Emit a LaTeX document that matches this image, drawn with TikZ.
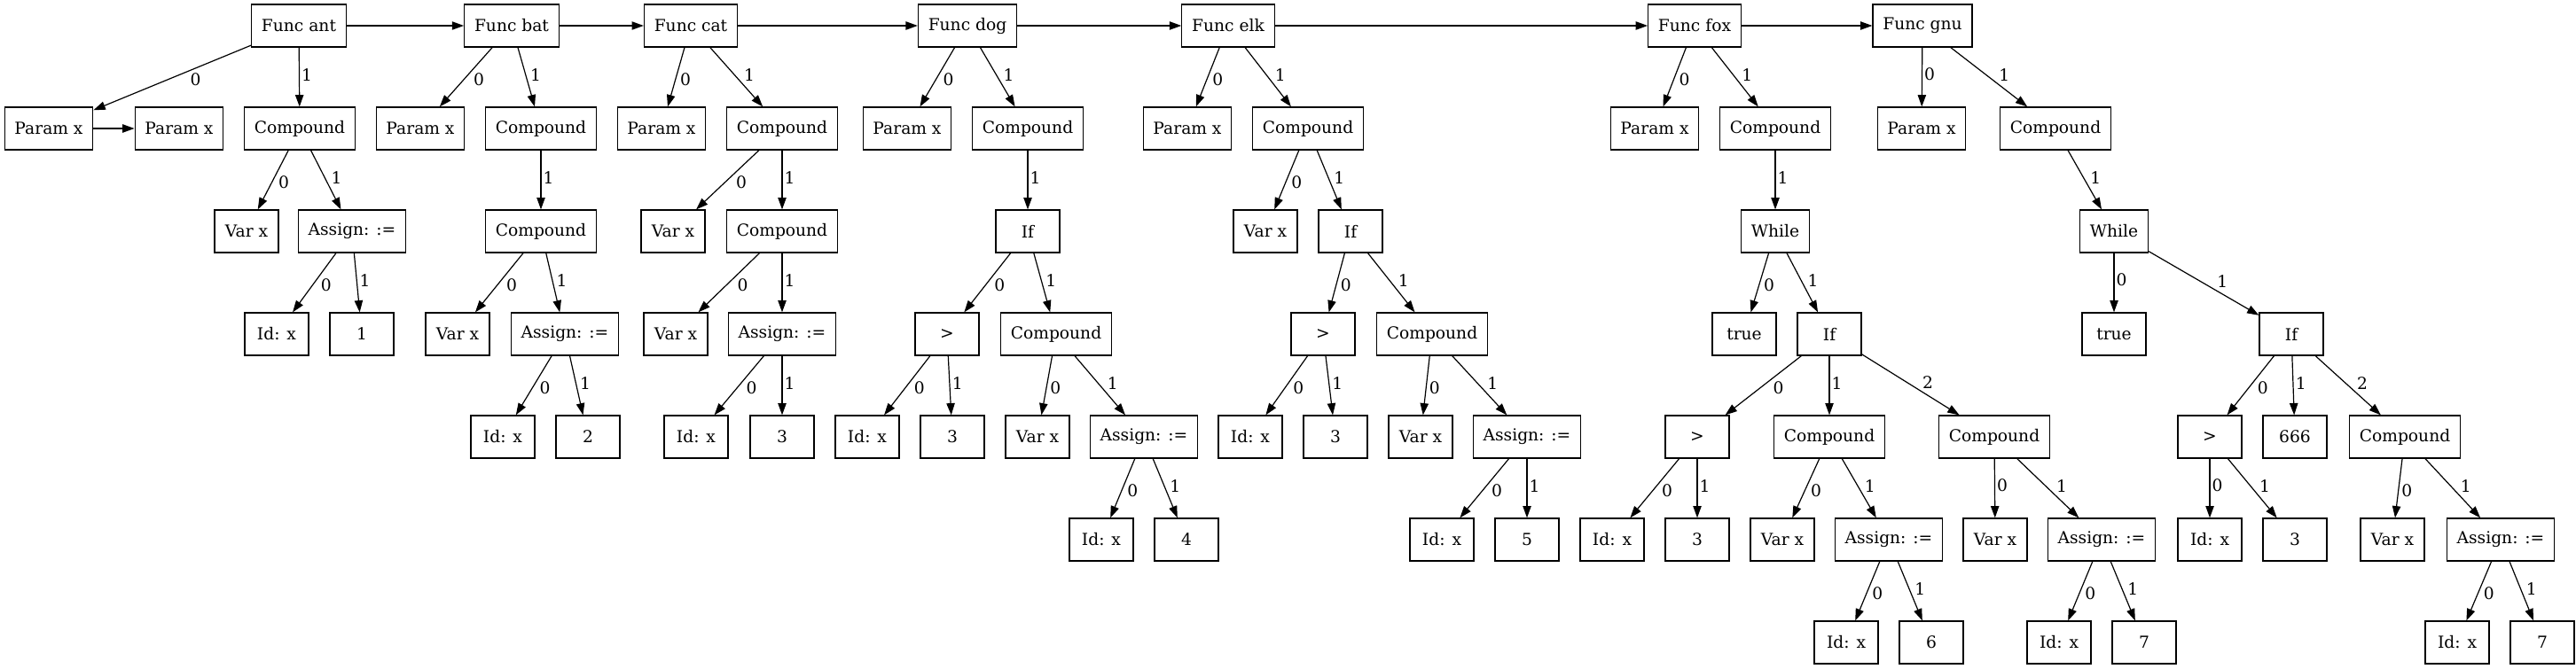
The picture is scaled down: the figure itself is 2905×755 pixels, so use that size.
\documentclass[tikz,border=0pt]{standalone}
\usepackage{fontspec}
\setmainfont{DejaVu Serif}
\usepackage{tikz}
\usetikzlibrary{arrows.meta}
\newcommand{\astfont}{\fontsize{14pt}{17pt}\selectfont}
\tikzset{
  ast/.style={draw=black, line width=0.9pt, rectangle, minimum width=54pt, minimum height=36pt, inner xsep=8.5pt, inner ysep=0pt, font=\astfont},
  edge/.style={draw=black, line width=0.9pt, -{Triangle[length=10pt,width=7pt]}},
  lr/.style={pos=0.6, anchor=south west, inner sep=1.5pt, font=\astfont},
  ll/.style={pos=0.4, anchor=north west, inner sep=1.5pt, font=\astfont},
}
\begin{document}
\begin{tikzpicture}[x=0.75pt,y=-0.75pt]
  \useasboundingbox (0,0) rectangle (2905,755);
  \node[ast] (fant) at (337,29) {Func ant};
  \node[ast] (fbat) at (577,29) {Func bat};
  \node[ast] (fcat) at (779,29) {Func cat};
  \node[ast] (fdog) at (1091,29) {Func dog};
  \node[ast] (felk) at (1385,29) {Func elk};
  \node[ast] (ffox) at (1911,29) {Func fox};
  \node[ast] (fgnu) at (2168,29) {Func gnu};
  \draw[edge] (fant) -- (fbat);
  \draw[edge] (fbat) -- (fcat);
  \draw[edge] (fcat) -- (fdog);
  \draw[edge] (fdog) -- (felk);
  \draw[edge] (felk) -- (ffox);
  \draw[edge] (ffox) -- (fgnu);

  \node[ast] (apar) at (55,145) {Param x};
  \node[ast] (apar2) at (202,145) {Param x};
  \node[ast] (acmp) at (338,145) {Compound};
  \node[ast] (avar) at (278,261) {Var x};
  \node[ast] (aasg) at (397,261) {Assign: :=};
  \node[ast] (aid) at (312,377) {Id: x};
  \node[ast] (anum) at (408,377) {1};
  \draw[edge] (fant) -- node[ll] {0} (apar);
  \draw[edge] (apar) -- (apar2);
  \draw[edge] (fant) -- node[lr] {1} (acmp);
  \draw[edge] (acmp) -- node[ll] {0} (avar);
  \draw[edge] (acmp) -- node[lr] {1} (aasg);
  \draw[edge] (aasg) -- node[ll] {0} (aid);
  \draw[edge] (aasg) -- node[lr] {1} (anum);

  \node[ast] (bpar) at (474,145) {Param x};
  \node[ast] (bcmp) at (610,145) {Compound};
  \node[ast] (bcmp2) at (610,261) {Compound};
  \node[ast] (bvar) at (516,377) {Var x};
  \node[ast] (basg) at (637,377) {Assign: :=};
  \node[ast] (bid) at (567,493) {Id: x};
  \node[ast] (bnum) at (663,493) {2};
  \draw[edge] (fbat) -- node[ll] {0} (bpar);
  \draw[edge] (fbat) -- node[lr] {1} (bcmp);
  \draw[edge] (bcmp) -- node[lr] {1} (bcmp2);
  \draw[edge] (bcmp2) -- node[ll] {0} (bvar);
  \draw[edge] (bcmp2) -- node[lr] {1} (basg);
  \draw[edge] (basg) -- node[ll] {0} (bid);
  \draw[edge] (basg) -- node[lr] {1} (bnum);

  \node[ast] (cpar) at (746,145) {Param x};
  \node[ast] (ccmp) at (882,145) {Compound};
  \node[ast] (cvar) at (759,261) {Var x};
  \node[ast] (ccmp2) at (882,261) {Compound};
  \node[ast] (cvar2) at (762,377) {Var x};
  \node[ast] (casg) at (882,377) {Assign: :=};
  \node[ast] (cid) at (785,493) {Id: x};
  \node[ast] (cnum) at (882,493) {3};
  \draw[edge] (fcat) -- node[ll] {0} (cpar);
  \draw[edge] (fcat) -- node[lr] {1} (ccmp);
  \draw[edge] (ccmp) -- node[ll] {0} (cvar);
  \draw[edge] (ccmp) -- node[lr] {1} (ccmp2);
  \draw[edge] (ccmp2) -- node[ll] {0} (cvar2);
  \draw[edge] (ccmp2) -- node[lr] {1} (casg);
  \draw[edge] (casg) -- node[ll] {0} (cid);
  \draw[edge] (casg) -- node[lr] {1} (cnum);

  \node[ast] (dpar) at (1023,145) {Param x};
  \node[ast] (dcmp) at (1159,145) {Compound};
  \node[ast] (dif) at (1159,261) {If};
  \node[ast] (dgt) at (1068,377) {>};
  \node[ast] (dcmp2) at (1191,377) {Compound};
  \node[ast] (did) at (978,493) {Id: x};
  \node[ast] (dthr) at (1074,493) {3};
  \node[ast] (dvar) at (1170,493) {Var x};
  \node[ast] (dasg) at (1290,493) {Assign: :=};
  \node[ast] (did2) at (1242,609) {Id: x};
  \node[ast] (dnum) at (1338,609) {4};
  \draw[edge] (fdog) -- node[ll] {0} (dpar);
  \draw[edge] (fdog) -- node[lr] {1} (dcmp);
  \draw[edge] (dcmp) -- node[lr] {1} (dif);
  \draw[edge] (dif) -- node[ll] {0} (dgt);
  \draw[edge] (dif) -- node[lr] {1} (dcmp2);
  \draw[edge] (dgt) -- node[ll] {0} (did);
  \draw[edge] (dgt) -- node[lr] {1} (dthr);
  \draw[edge] (dcmp2) -- node[ll] {0} (dvar);
  \draw[edge] (dcmp2) -- node[lr] {1} (dasg);
  \draw[edge] (dasg) -- node[ll] {0} (did2);
  \draw[edge] (dasg) -- node[lr] {1} (dnum);

  \node[ast] (epar) at (1339,145) {Param x};
  \node[ast] (ecmp) at (1475,145) {Compound};
  \node[ast] (evar) at (1427,261) {Var x};
  \node[ast] (eif) at (1523,261) {If};
  \node[ast] (egt) at (1492,377) {>};
  \node[ast] (ecmp2) at (1615,377) {Compound};
  \node[ast] (eid) at (1410,493) {Id: x};
  \node[ast] (ethr) at (1506,493) {3};
  \node[ast] (evar2) at (1602,493) {Var x};
  \node[ast] (easg) at (1722,493) {Assign: :=};
  \node[ast] (eid2) at (1626,609) {Id: x};
  \node[ast] (enum) at (1722,609) {5};
  \draw[edge] (felk) -- node[ll] {0} (epar);
  \draw[edge] (felk) -- node[lr] {1} (ecmp);
  \draw[edge] (ecmp) -- node[ll] {0} (evar);
  \draw[edge] (ecmp) -- node[lr] {1} (eif);
  \draw[edge] (eif) -- node[ll] {0} (egt);
  \draw[edge] (eif) -- node[lr] {1} (ecmp2);
  \draw[edge] (egt) -- node[ll] {0} (eid);
  \draw[edge] (egt) -- node[lr] {1} (ethr);
  \draw[edge] (ecmp2) -- node[ll] {0} (evar2);
  \draw[edge] (ecmp2) -- node[lr] {1} (easg);
  \draw[edge] (easg) -- node[ll] {0} (eid2);
  \draw[edge] (easg) -- node[lr] {1} (enum);

  \node[ast] (xpar) at (1866,145) {Param x};
  \node[ast] (xcmp) at (2002,145) {Compound};
  \node[ast] (xwh) at (2002,261) {While};
  \node[ast] (xtrue) at (1967,377) {true};
  \node[ast] (xif) at (2063,377) {If};
  \node[ast] (xgt) at (1914,493) {>};
  \node[ast] (xcmp2) at (2063,493) {Compound};
  \node[ast] (xcmp3) at (2249,493) {Compound};
  \node[ast] (xid) at (1818,609) {Id: x};
  \node[ast] (xthr) at (1914,609) {3};
  \node[ast] (xvar) at (2010,609) {Var x};
  \node[ast] (xasg) at (2130,609) {Assign: :=};
  \node[ast] (xvar2) at (2250,609) {Var x};
  \node[ast] (xasg2) at (2370,609) {Assign: :=};
  \node[ast] (xid2) at (2082,725) {Id: x};
  \node[ast] (xsix) at (2178,725) {6};
  \node[ast] (xid3) at (2322,725) {Id: x};
  \node[ast] (xsev) at (2418,725) {7};
  \draw[edge] (ffox) -- node[ll] {0} (xpar);
  \draw[edge] (ffox) -- node[lr] {1} (xcmp);
  \draw[edge] (xcmp) -- node[lr] {1} (xwh);
  \draw[edge] (xwh) -- node[ll] {0} (xtrue);
  \draw[edge] (xwh) -- node[lr] {1} (xif);
  \draw[edge] (xif) -- node[ll] {0} (xgt);
  \draw[edge] (xif) -- node[lr] {1} (xcmp2);
  \draw[edge] (xif) -- node[lr] {2} (xcmp3);
  \draw[edge] (xgt) -- node[ll] {0} (xid);
  \draw[edge] (xgt) -- node[lr] {1} (xthr);
  \draw[edge] (xcmp2) -- node[ll] {0} (xvar);
  \draw[edge] (xcmp2) -- node[lr] {1} (xasg);
  \draw[edge] (xcmp3) -- node[lr] {0} (xvar2);
  \draw[edge] (xcmp3) -- node[lr] {1} (xasg2);
  \draw[edge] (xasg) -- node[ll] {0} (xid2);
  \draw[edge] (xasg) -- node[lr] {1} (xsix);
  \draw[edge] (xasg2) -- node[ll] {0} (xid3);
  \draw[edge] (xasg2) -- node[lr] {1} (xsev);

  \node[ast] (gpar) at (2167,145) {Param x};
  \node[ast] (gcmp) at (2318,145) {Compound};
  \node[ast] (gwh) at (2384,261) {While};
  \node[ast] (gtrue) at (2384,377) {true};
  \node[ast] (gif) at (2584,377) {If};
  \node[ast] (ggt) at (2492,493) {>};
  \node[ast] (gsix) at (2588,493) {666};
  \node[ast] (gcmp2) at (2712,493) {Compound};
  \node[ast] (gid) at (2492,609) {Id: x};
  \node[ast] (gthr) at (2588,609) {3};
  \node[ast] (gvar) at (2698,609) {Var x};
  \node[ast] (gasg) at (2820,609) {Assign: :=};
  \node[ast] (gid2) at (2771,725) {Id: x};
  \node[ast] (gsev) at (2867,725) {7};
  \draw[edge] (fgnu) -- node[lr] {0} (gpar);
  \draw[edge] (fgnu) -- node[lr] {1} (gcmp);
  \draw[edge] (gcmp) -- node[lr] {1} (gwh);
  \draw[edge] (gwh) -- node[lr] {0} (gtrue);
  \draw[edge] (gwh) -- node[lr] {1} (gif);
  \draw[edge] (gif) -- node[ll] {0} (ggt);
  \draw[edge] (gif) -- node[lr] {1} (gsix);
  \draw[edge] (gif) -- node[lr] {2} (gcmp2);
  \draw[edge] (ggt) -- node[lr] {0} (gid);
  \draw[edge] (ggt) -- node[lr] {1} (gthr);
  \draw[edge] (gcmp2) -- node[ll] {0} (gvar);
  \draw[edge] (gcmp2) -- node[lr] {1} (gasg);
  \draw[edge] (gasg) -- node[ll] {0} (gid2);
  \draw[edge] (gasg) -- node[lr] {1} (gsev);
\end{tikzpicture}
\end{document}
